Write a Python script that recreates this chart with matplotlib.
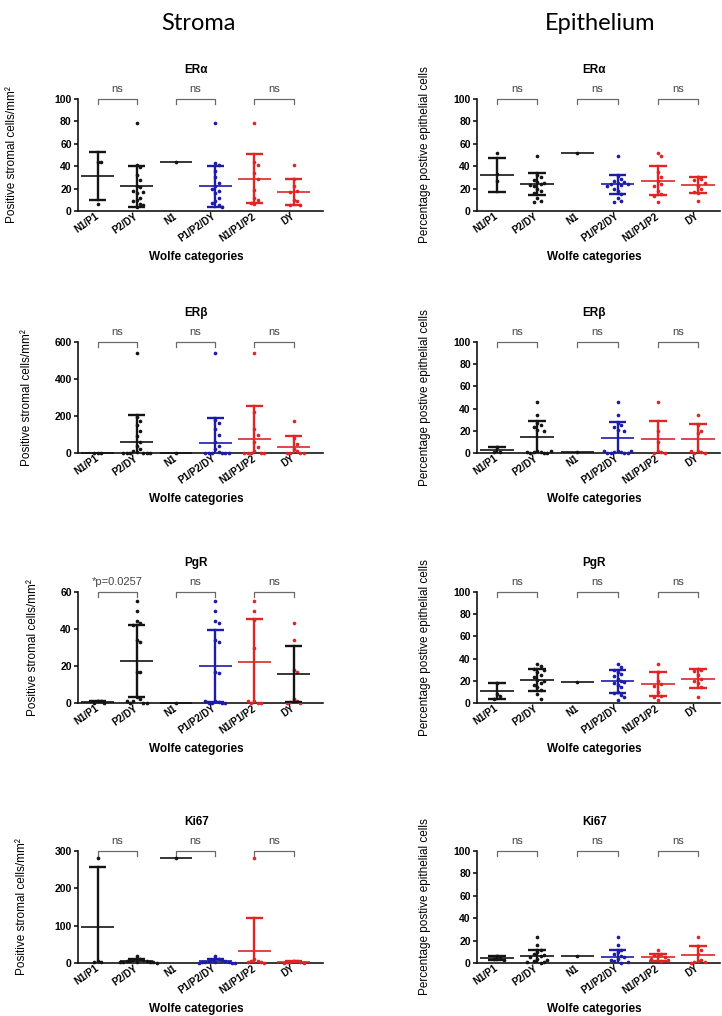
import matplotlib
matplotlib.use("Agg")
import matplotlib.pyplot as plt

W, H = 722, 1016
plt.rcParams["font.family"] = ["Liberation Sans", "DejaVu Sans"]

GROUPS = ["N1/P1", "P2/DY", "N1", "P1/P2/DY", "N1/P1/P2", "DY"]
BLACK = "#141414"
BLUE = "#1c1ca8"
RED = "#de2626"
GREY = "#6a6a6a"
POINT_COLORS = [BLACK, BLACK, BLACK, BLUE, RED, RED]
PAIRS = [(0, 1), (2, 3), (4, 5)]

# ---- Stroma ----
s_era_points = [
    [44, 44, 6],
    [79, 41, 39, 32, 28, 22, 21, 18, 17, 16, 12, 10, 9, 6, 5, 4],
    [44],
    [79, 43, 41, 36, 30, 25, 22, 20, 18, 16, 12, 9, 7, 5, 4],
    [79, 44, 41, 34, 29, 19, 12, 10, 7, 6],
    [41, 29, 22, 18, 17, 10, 9, 5, 5],
]
s_era_mean = [31, 22, 44, 22, 29, 17]
s_era_sd = [21.5, 18, 0, 18, 22, 12]

s_erb_points = [
    [0, 0, 0],
    [540, 195, 175, 150, 120, 90, 60, 40, 20, 10, 5, 0, 0, 0, 0, 0, 0],
    [0],
    [540, 180, 160, 130, 100, 60, 40, 20, 5, 0, 0, 0, 0, 0, 0],
    [540, 220, 130, 100, 60, 30, 10, 0, 0, 0, 0, 0],
    [175, 80, 50, 20, 10, 0, 0, 0, 0],
]
s_erb_mean = [0, 62, 0, 55, 75, 30]
s_erb_sd = [0, 143, 0, 135, 180, 60]

s_pgr_points = [
    [1, 1, 0, 0],
    [55, 49.5, 44.5, 43, 42, 34, 33, 17, 17, 3, 2, 1, 0, 0, 0, 1],
    [0],
    [55, 49.5, 44.5, 43, 34, 33, 17, 16, 1, 0.5, 0, 0, 0, 0, 1],
    [55, 49.5, 45, 30, 1, 0, 0, 0, 1],
    [43, 34, 18, 17, 2, 1, 0.5, 0, 0],
]
s_pgr_mean = [0.5, 22.5, 0, 20, 22, 15.7]
s_pgr_sd = [0.6, 19.5, 0, 19.5, 23.5, 15.2]

s_ki67_points = [
    [280, 5, 3, 2],
    [20, 10, 8, 7, 6, 5, 5, 4, 3, 3, 2, 2, 1],
    [280],
    [19, 10, 8, 7, 6, 5, 4, 3, 2, 2, 1, 1, 0],
    [280, 10, 6, 5, 3, 2, 1],
    [6, 5, 4, 3, 2, 1, 1],
]
s_ki67_mean = [97, 5, 280, 5, 32, 3]
s_ki67_sd = [160, 5, 0, 5, 88, 3]

# ---- Epithelium ----
e_era_points = [
    [52, 33, 27],
    [49, 32, 30, 28, 26, 25, 24, 23, 22, 20, 18, 16, 12, 9, 8],
    [52],
    [49, 31, 29, 27, 26, 25, 24, 24, 23, 22, 20, 18, 15, 12, 9, 8],
    [52, 49, 35, 30, 27, 24, 22, 18, 15, 13, 8],
    [30, 29, 28, 25, 22, 20, 17, 16, 9],
]
e_era_mean = [32, 24, 52, 24, 27, 23]
e_era_sd = [15, 9.5, 0, 8.5, 13, 7]

e_erb_points = [
    [5, 1, 1],
    [46, 34, 27, 25, 23, 21, 20, 2, 1, 1, 0, 0, 0, 1, 2],
    [0.5],
    [46, 34, 27, 25, 23, 21, 20, 2, 1, 1, 0, 0, 0, 0, 2, 2],
    [46, 20, 10, 2, 1, 0, 0],
    [34, 25, 20, 18, 2, 1, 0, 0, 2],
]
e_erb_mean = [2.5, 14, 0.5, 13.5, 13, 12.5]
e_erb_sd = [3, 15, 0, 14.5, 16, 13.5]

e_pgr_points = [
    [18, 8, 6, 4],
    [35, 33, 31, 30, 28, 25, 23, 21, 20, 18, 16, 14, 12, 8, 4],
    [19],
    [35, 32, 30, 28, 26, 24, 22, 20, 19, 18, 16, 14, 10, 9, 7, 5, 3],
    [35, 28, 20, 17, 15, 10, 6, 5, 3],
    [31, 30, 29, 25, 22, 20, 18, 14, 5],
]
e_pgr_mean = [11, 21, 19, 19.5, 17, 22]
e_pgr_sd = [7, 10, 0, 10.5, 11, 8.5]

e_ki67_points = [
    [6, 5, 4, 3],
    [23, 16, 12, 10, 8, 7, 6, 5, 4, 3, 2, 1, 1, 0],
    [6.5],
    [23, 16, 12, 10, 8, 6, 5, 4, 3, 2, 1, 0],
    [12, 8, 7, 6, 5, 4, 3, 2],
    [23, 15, 12, 8, 3, 2, 1, 1, 0],
]
e_ki67_mean = [4.5, 6, 6.5, 5.5, 5, 7]
e_ki67_sd = [1.5, 6, 0, 6.5, 3, 8]

NS = ["ns", "ns", "ns"]
PGR_STROMA_SIG = ["*p=0.0257", "ns", "ns"]

S_YLABEL = "Positive stromal cells/mm\u00b2"
E_YLABEL = "Percentage postive epithelial cells"

# rows: axes top/bottom in pixels
ROWS = [(99, 211), (342, 453), (592, 703), (851, 963)]
LEFT_X = (78, 323)
RIGHT_X = (477, 720)
S_LABEL_X = [12, 27, 33, 22]

panels = [
    # col, row, title, ylabel, ymax, ystep, points, mean, sd, bracket texts
    (0, 0, "ER\u03b1", S_YLABEL, 100, 20, s_era_points, s_era_mean, s_era_sd, NS),
    (0, 1, "ER\u03b2", S_YLABEL, 600, 200, s_erb_points, s_erb_mean, s_erb_sd, NS),
    (0, 2, "PgR", S_YLABEL, 60, 20, s_pgr_points, s_pgr_mean, s_pgr_sd, PGR_STROMA_SIG),
    (0, 3, "Ki67", S_YLABEL, 300, 100, s_ki67_points, s_ki67_mean, s_ki67_sd, NS),
    (1, 0, "ER\u03b1", E_YLABEL, 100, 20, e_era_points, e_era_mean, e_era_sd, NS),
    (1, 1, "ER\u03b2", E_YLABEL, 100, 20, e_erb_points, e_erb_mean, e_erb_sd, NS),
    (1, 2, "PgR", E_YLABEL, 100, 20, e_pgr_points, e_pgr_mean, e_pgr_sd, NS),
    (1, 3, "Ki67", E_YLABEL, 100, 20, e_ki67_points, e_ki67_mean, e_ki67_sd, NS),
]


def swarm(vals, ymax, dx=0.085):
    # simple deterministic beeswarm offsets
    thr = ymax * 0.055
    placed = []
    offs = []
    for v in vals:
        done = False
        for k in range(40):
            cands = [0.0] if k == 0 else [k * dx, -k * dx]
            for c in cands:
                if all(abs(c - px) >= dx * 0.95 or abs(v - py) >= thr for px, py in placed):
                    placed.append((c, v))
                    offs.append(c)
                    done = True
                    break
            if done:
                break
    return offs


fig = plt.figure(figsize=(W / 100, H / 100), dpi=100)

fig.text(198 / W, 1 - 24 / H, "Stroma", fontsize=17, family=["Lato", "DejaVu Sans"],
         ha="center", va="center")
fig.text(600 / W, 1 - 24 / H, "Epithelium", fontsize=17, family=["Lato", "DejaVu Sans"],
         ha="center", va="center")

for col, row, title, ylabel, ymax, ystep, points, means, sds, sig in panels:
    top, bot = ROWS[row]
    x0, x1 = LEFT_X if col == 0 else RIGHT_X
    ax = fig.add_axes([x0 / W, 1 - bot / H, (x1 - x0) / W, (bot - top) / H])
    ax.set_xlim(-0.5, 5.75 if col == 0 else 5.55)
    ax.set_ylim(0, ymax)
    for sp in ["top", "right"]:
        ax.spines[sp].set_visible(False)
    for sp in ["left", "bottom"]:
        ax.spines[sp].set_linewidth(1.2)
        ax.spines[sp].set_color(BLACK)
    ax.set_yticks(range(0, ymax + 1, ystep))
    ax.tick_params(axis="y", length=3, width=1.1, pad=1.5, labelsize=7.5)
    ax.tick_params(axis="x", length=0, pad=3, labelsize=7)
    ax.set_xticks(range(len(GROUPS)))
    ax.set_xticklabels(GROUPS, rotation=35, ha="right", va="center",
                       rotation_mode="anchor", fontweight="bold")
    for lab in ax.get_yticklabels():
        lab.set_fontweight("bold")

    for i, (pts, m, sd) in enumerate(zip(points, means, sds)):
        pc = POINT_COLORS[i]
        bc = pc
        if title == "PgR" and col == 0 and i == 5:
            bc = BLACK
        offs = swarm(pts, ymax)
        ax.scatter([i + o for o in offs], pts, s=7, color=pc, zorder=3,
                   clip_on=False, linewidths=0)
        ax.plot([i - 0.42, i + 0.42], [m, m], color=bc, lw=1.2, zorder=4,
                solid_capstyle="butt", clip_on=False)
        if sd > 0:
            lo, hi = m - sd, m + sd
            ax.plot([i, i], [max(lo, 0), hi], color=bc, lw=1.7, zorder=4)
            ax.plot([i - 0.22, i + 0.22], [hi, hi], color=bc, lw=1.7, zorder=4,
                    solid_capstyle="butt")
            if lo > 0:
                ax.plot([i - 0.22, i + 0.22], [lo, lo], color=bc, lw=1.7, zorder=4,
                        solid_capstyle="butt")

    tick = ymax * 0.045
    for (a, b), txt in zip(PAIRS, sig):
        ax.plot([a, a, b, b], [ymax - tick, ymax, ymax, ymax - tick], color=GREY,
                lw=0.9, clip_on=False)
        ax.annotate(txt, xy=((a + b) / 2, ymax), xytext=(0, 3.5),
                    textcoords="offset points", ha="center", va="bottom",
                    fontsize=8, color="#444444", annotation_clip=False)

    ax.annotate(title, xy=(0.5, 1), xycoords="axes fraction", xytext=(-3, 21),
                textcoords="offset points", ha="center", va="center",
                fontsize=8.5, fontweight="bold")
    ax.annotate("Wolfe categories", xy=(0.5, 0), xycoords="axes fraction",
                xytext=(-3, -33), textcoords="offset points", ha="center",
                va="center", fontsize=8.5, fontweight="bold")

    lx = S_LABEL_X[row] if col == 0 else 425
    fig.text(lx / W, 1 - (top + bot) / 2 / H, ylabel, rotation=90,
             ha="center", va="center", fontsize=8.5,
             family=["Liberation Sans Narrow", "Liberation Sans", "DejaVu Sans"])

fig.savefig("out.png", dpi=100)
